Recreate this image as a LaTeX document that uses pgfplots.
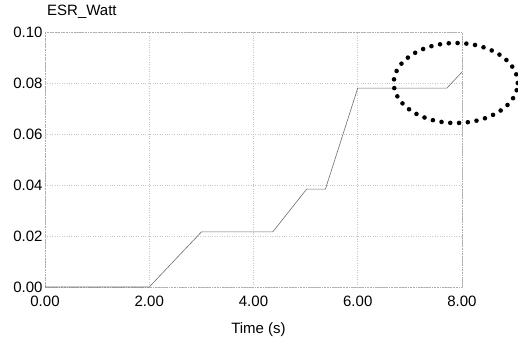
\documentclass[border=0pt]{standalone}
\usepackage{fontspec}
\setmainfont{Liberation Sans}
\usepackage{pgfplots}
\pgfplotsset{compat=1.18}
\begin{document}
\begin{tikzpicture}
\useasboundingbox (-45bp,-57bp) rectangle (473bp,287bp);
\begin{axis}[
  scale only axis, width=417bp, height=255bp,
  xmin=0, xmax=8, ymin=0, ymax=0.1,
  xtick={0,2,4,6,8}, xticklabels={0.00,2.00,4.00,6.00,8.00},
  ytick={0,0.02,0.04,0.06,0.08,0.1}, yticklabels={0.00,0.02,0.04,0.06,0.08,0.10},
  scaled y ticks=false,
  tick style={draw=none},
  grid=major, grid style={dotted, gray!45, line width=0.5pt},
  axis line style={densely dotted, gray!65, line width=0.6pt},
  ticklabel style={font=\fontsize{15bp}{17bp}\selectfont, text=black},
  xticklabel style={yshift=-6bp},
  yticklabel style={xshift=1bp},
  xlabel={Time (s)},
  xlabel style={font=\fontsize{15bp}{17bp}\selectfont, yshift=-9bp, xshift=5bp},
  clip=false,
]
\addplot[gray!85!black, line width=0.6pt] coordinates {
  (0,0) (2,0) (3.0,0.0216) (4.37,0.0216) (5.02,0.0384) (5.38,0.0384)
  (6.0,0.078) (7.71,0.078) (8.0,0.0843)
};
\node[anchor=south west, font=\fontsize{15bp}{17bp}\selectfont, inner sep=0pt]
  at (rel axis cs:0,1) [xshift=2bp, yshift=13bp] {ESR\_Watt};
\draw[black, line width=4.6pt, line cap=round, dash pattern=on 0pt off 8.8bp]
  (axis cs:7.88,0.080) ellipse [x radius=62bp, y radius=40bp];
\end{axis}
\end{tikzpicture}
\end{document}
